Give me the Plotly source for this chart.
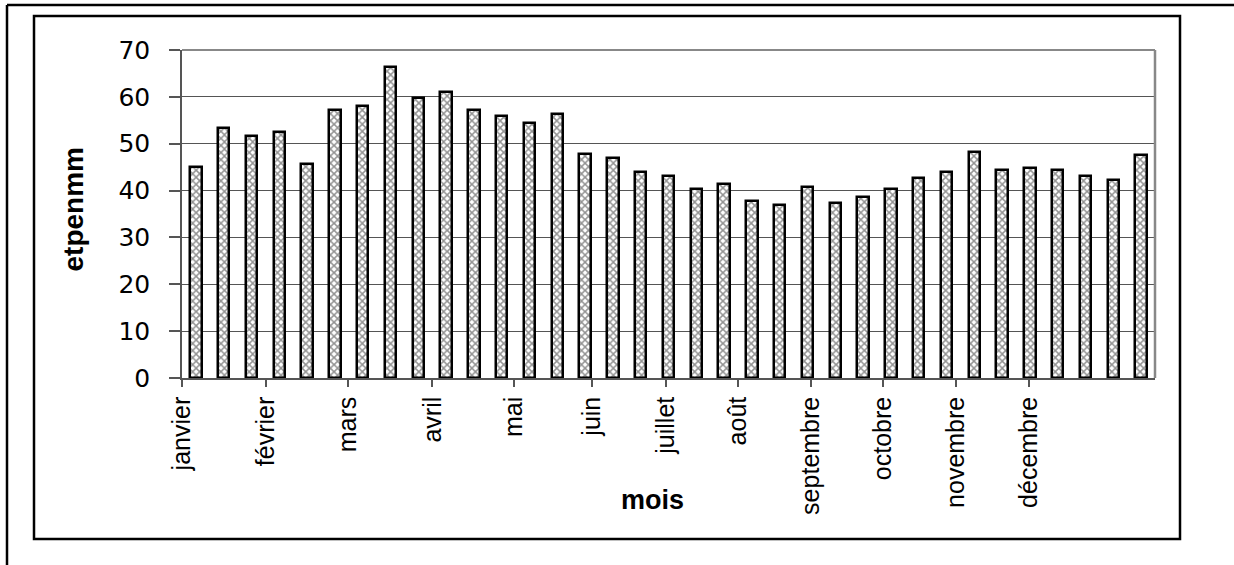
import plotly.graph_objects as go

# decadal ETP values (mm), 35 bars
etp_values = [45.0, 53.4, 51.6, 52.6, 45.7, 57.3, 58.1, 66.3, 59.8, 61.1,
              57.3, 56.0, 54.4, 56.3, 47.9, 47.0, 43.9, 43.1, 40.4, 41.4,
              37.8, 36.9, 40.8, 37.4, 38.7, 40.4, 42.6, 43.9, 48.3, 44.3,
              44.9, 44.3, 43.2, 42.3, 47.6]
bar_index = list(range(len(etp_values)))

month_labels = ["janvier", "février", "mars", "avril", "mai", "juin", "juillet",
                "août", "septembre", "octobre", "novembre", "décembre"]
# axis positions (in bar-index units) where each month label sits
month_tick_pos = [-0.5, 2.52, 5.47, 8.51, 11.44, 14.25, 16.91, 19.5, 22.13,
                  24.72, 27.34, 29.97]

y_ticks = [0, 10, 20, 30, 40, 50, 60, 70]

W, H = 1234, 565
L, R, T, B = 182, 1155, 50, 378


def px(x):
    return (x - L) / (R - L)


def py(y):
    return (B - y) / (B - T)


fig = go.Figure()
fig.add_trace(go.Bar(
    x=bar_index, y=etp_values, width=0.41,
    marker=dict(color="white",
                line=dict(color="black", width=2.5),
                pattern=dict(shape="x", fgcolor="#262626", bgcolor="white",
                             size=5, solidity=0.5)),
    showlegend=False,
))

fig.update_layout(
    width=W, height=H,
    margin=dict(l=L, r=W - R, t=T, b=H - B, autoexpand=False),
    paper_bgcolor="white", plot_bgcolor="white",
    font=dict(family="Liberation Sans, Arial, sans-serif", color="black"),
    bargap=0,
)

fig.update_xaxes(
    range=[-0.5, len(etp_values) - 0.5],
    tickmode="array", tickvals=month_tick_pos, ticktext=month_labels,
    tickangle=-90, ticks="outside", ticklen=7, tickcolor="#555", tickwidth=1.5,
    tickfont=dict(size=25, family="Liberation Sans, Arial, sans-serif"),
    showline=True, linecolor="#555", linewidth=1.5,
    showgrid=False, zeroline=False, ticklabelstandoff=0,
)
fig.update_yaxes(
    range=[0, 70], tickmode="array", tickvals=y_ticks,
    ticks="outside", ticklen=11, tickcolor="#555", tickwidth=1.5,
    tickfont=dict(size=25, family="DejaVu Sans, sans-serif"),
    showline=True, linecolor="#555", linewidth=1.5,
    showgrid=True, gridcolor="#555", gridwidth=1,
    zeroline=False, ticklabelstandoff=14,
)

shapes = [
    # plot-area top and right border (grey)
    dict(type="line", xref="paper", yref="paper", x0=0, x1=1, y0=1, y1=1,
         line=dict(color="#888", width=2)),
    dict(type="line", xref="paper", yref="paper", x0=1, x1=1, y0=0, y1=1,
         line=dict(color="#888", width=2.5)),
    # chart-area box
    dict(type="rect", xref="paper", yref="paper",
         x0=px(34), x1=px(1180), y0=py(539), y1=py(16),
         line=dict(color="black", width=2.5)),
    # outer frame lines
    dict(type="line", xref="paper", yref="paper",
         x0=px(7), x1=px(1234), y0=py(5), y1=py(5),
         line=dict(color="black", width=2.5)),
    dict(type="line", xref="paper", yref="paper",
         x0=px(7), x1=px(7), y0=py(5), y1=py(566),
         line=dict(color="black", width=2.5)),
]
fig.update_layout(shapes=shapes)

fig.add_annotation(text="<b>mois</b>", xref="paper", yref="paper",
                   x=px(652), y=py(517), showarrow=False,
                   font=dict(size=27, family="Liberation Sans, Arial, sans-serif"))
fig.add_annotation(text="<b>etpenmm</b>", xref="paper", yref="paper",
                   x=px(55), y=py(210), showarrow=False, textangle=-90,
                   font=dict(size=28, family="Liberation Sans, Arial, sans-serif"))

fig.write_html("out.html", config={"displayModeBar": False},
               post_script="document.body.style.margin='0';document.body.style.overflow='hidden';")
